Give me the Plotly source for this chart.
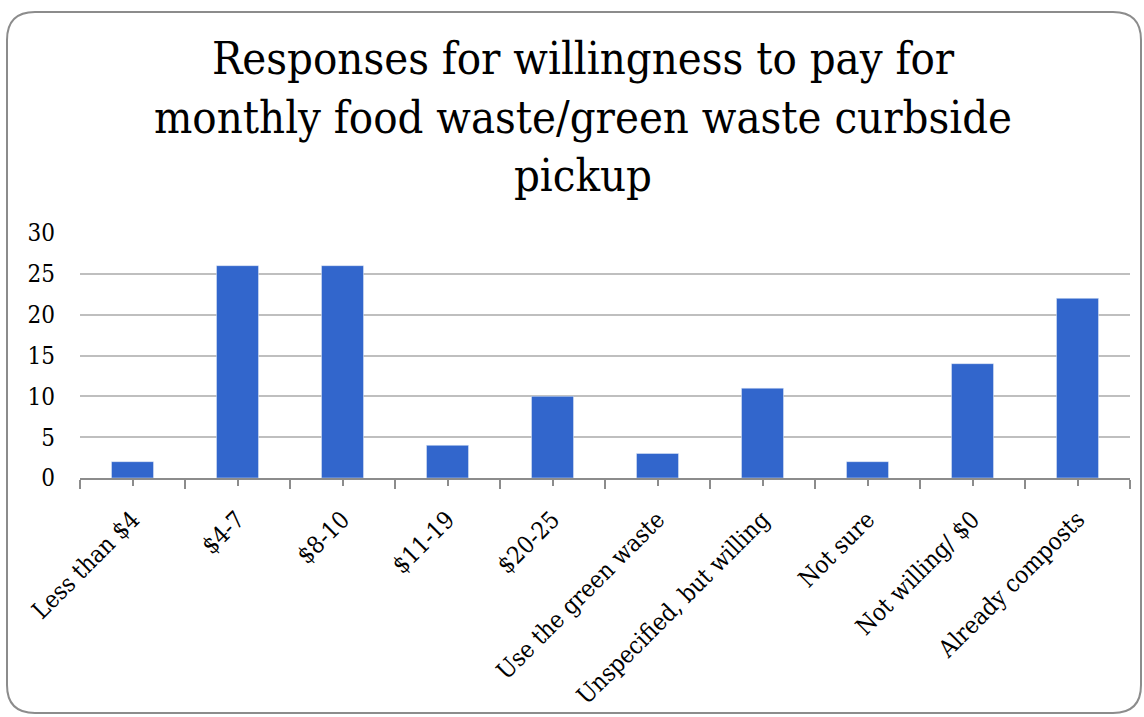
import plotly.graph_objects as go

categories = ["Less than $4", "$4-7", "$8-10", "$11-19", "$20-25",
              "Use the green waste", "Unspecified, but willing", "Not sure",
              "Not willing/ $0", "Already composts"]
responses = [2, 26, 26, 4, 10, 3, 11, 2, 14, 22]
y_ticks = [0, 5, 10, 15, 20, 25, 30]
title_lines = ["Responses for willingness to pay for",
               "monthly food waste/green waste curbside",
               "pickup"]

W, H = 1144, 717
L, R, T, B = 80, 14, 233, 239
pw, ph = W - L - R, H - T - B

def px(x):
    return (x - L) / pw

def py(y):
    return (H - B - y) / ph

# rounded frame
x0, x1, y0, y1, r = 7, 1141, 12, 713, 28
path = (f"M {px(x0+r)},{py(y0)} L {px(x1-r)},{py(y0)} Q {px(x1)},{py(y0)} {px(x1)},{py(y0+r)} "
        f"L {px(x1)},{py(y1-r)} Q {px(x1)},{py(y1)} {px(x1-r)},{py(y1)} "
        f"L {px(x0+r)},{py(y1)} Q {px(x0)},{py(y1)} {px(x0)},{py(y1-r)} "
        f"L {px(x0)},{py(y0+r)} Q {px(x0)},{py(y0)} {px(x0+r)},{py(y0)} Z")

idx = list(range(len(categories)))
serif = "DejaVu Serif Condensed, DejaVu Serif, serif"

fig = go.Figure(go.Bar(x=idx, y=responses, marker_color="#3266CC", width=0.4,
                       hoverinfo="skip"))

fig.update_layout(
    width=W, height=H,
    margin=dict(l=L, r=R, t=T, b=B, autoexpand=False),
    paper_bgcolor="white", plot_bgcolor="white",
    showlegend=False,
    title=dict(text="<br>".join(title_lines), x=583 / W, xanchor="center",
               xref="container", y=1 - 74 / H, yanchor="top", yref="container",
               font=dict(family=serif, size=45, color="#000000")),
    font=dict(family=serif, size=24, color="#000000"),
    xaxis=dict(range=[-0.5, len(categories) - 0.5], tickmode="array", tickvals=idx,
               ticktext=categories, tickangle=-45, ticks="outside", ticklen=6,
               tickwidth=2, tickcolor="#8c8c8c", showline=True, linecolor="#8c8c8c",
               linewidth=2, showgrid=False, zeroline=False, fixedrange=True,
               ticklabelstandoff=10, automargin=False,
               tickfont=dict(family=serif, size=24, color="#000000"),
               minor=dict(tickmode="linear", tick0=-0.5, dtick=1, ticks="outside",
                          ticklen=9, tickwidth=2, tickcolor="#8c8c8c", showgrid=False)),
    yaxis=dict(range=[0, 30], tickmode="array", tickvals=y_ticks, showgrid=True,
               gridcolor="#bfbfbf", gridwidth=2, zeroline=False, showline=False,
               ticks="", ticklabelstandoff=24, fixedrange=True, automargin=False,
               tickfont=dict(family=serif, size=24, color="#000000")),
    shapes=[dict(type="path", path=path, xref="paper", yref="paper",
                 line=dict(color="#8c8c8c", width=2), fillcolor="rgba(0,0,0,0)",
                 layer="above")],
)

fig.write_html("out.html", config={"displayModeBar": False})
